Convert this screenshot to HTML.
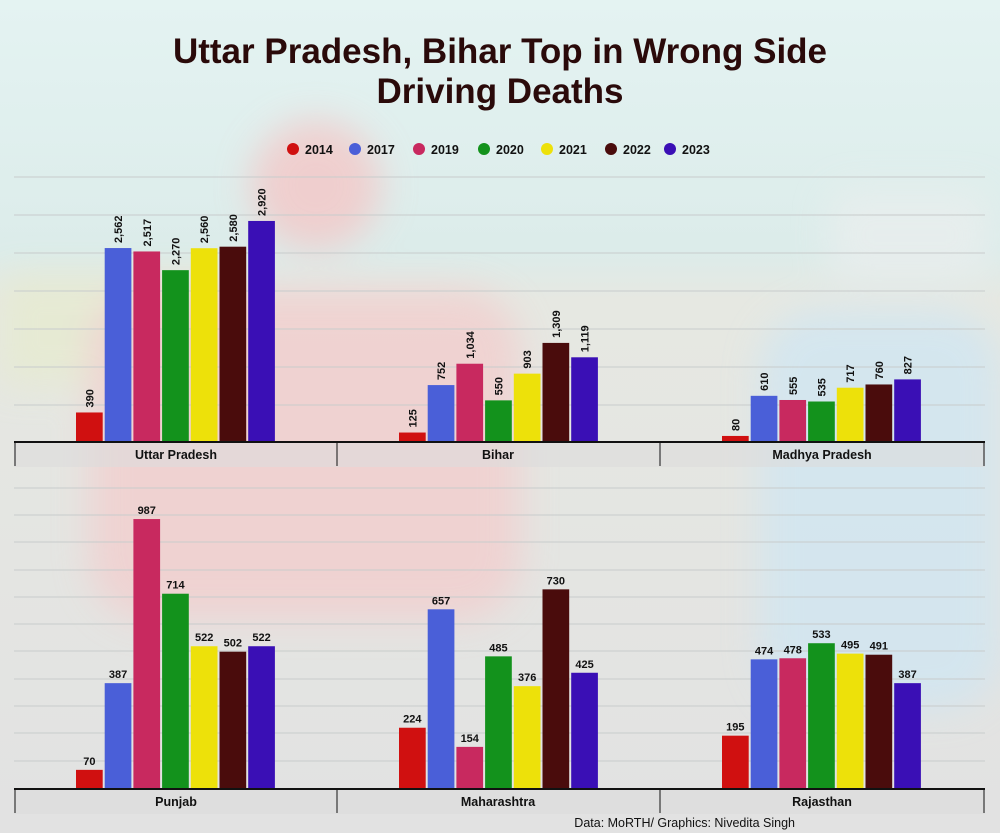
<!DOCTYPE html>
<html><head><meta charset="utf-8"><style>
body{margin:0;width:1000px;height:833px;overflow:hidden;font-family:"Liberation Sans",Arial,sans-serif}
</style></head><body>
<svg width="1000" height="833" viewBox="0 0 1000 833" xmlns="http://www.w3.org/2000/svg" font-family="Liberation Sans, Arial, sans-serif">
<defs>
<linearGradient id="bg" x1="0" y1="0" x2="0" y2="1">
<stop offset="0" stop-color="#e4f3f2"/><stop offset="0.3" stop-color="#dcecea"/><stop offset="0.36" stop-color="#e6e8e2"/><stop offset="1" stop-color="#e2e2e2"/></linearGradient>
<filter id="bl"><feGaussianBlur stdDeviation="18"/></filter>
</defs>
<rect width="1000" height="833" fill="url(#bg)"/>
<g filter="url(#bl)" opacity="0.75">
<rect x="0" y="275" width="240" height="110" fill="#e6ebcf"/>
<circle cx="316" cy="185" r="65" fill="#f5c4c4"/>
<rect x="90" y="290" width="430" height="330" rx="60" fill="#f3cccc"/>
<rect x="760" y="310" width="240" height="400" rx="60" fill="#cfe6f3"/>
<rect x="830" y="190" width="160" height="90" rx="20" fill="#eaeeee"/>
</g>
<text x="500" y="63" text-anchor="middle" font-size="35" font-weight="bold" fill="#2a0a0a">Uttar Pradesh, Bihar Top in Wrong Side</text>
<text x="500" y="103" text-anchor="middle" font-size="35" font-weight="bold" fill="#2a0a0a">Driving Deaths</text>
<g font-size="12.5" font-weight="bold" fill="#111">
<circle cx="293" cy="149" r="6" fill="#d01010"/><text x="305" y="154">2014</text>
<circle cx="355" cy="149" r="6" fill="#4a5fd8"/><text x="367" y="154">2017</text>
<circle cx="419" cy="149" r="6" fill="#c8295f"/><text x="431" y="154">2019</text>
<circle cx="484" cy="149" r="6" fill="#13921c"/><text x="496" y="154">2020</text>
<circle cx="547" cy="149" r="6" fill="#ede10a"/><text x="559" y="154">2021</text>
<circle cx="611" cy="149" r="6" fill="#4a0c0c"/><text x="623" y="154">2022</text>
<circle cx="670" cy="149" r="6" fill="#3a0fb5"/><text x="682" y="154">2023</text>
</g>
<g stroke="#c8cccc" stroke-width="1">
<line x1="14" x2="985" y1="177" y2="177"/><line x1="14" x2="985" y1="215" y2="215"/><line x1="14" x2="985" y1="253" y2="253"/><line x1="14" x2="985" y1="291" y2="291"/><line x1="14" x2="985" y1="329" y2="329"/><line x1="14" x2="985" y1="367" y2="367"/><line x1="14" x2="985" y1="405" y2="405"/>
<line x1="14" x2="985" y1="488" y2="488"/><line x1="14" x2="985" y1="515" y2="515"/><line x1="14" x2="985" y1="542" y2="542"/><line x1="14" x2="985" y1="570" y2="570"/><line x1="14" x2="985" y1="597" y2="597"/><line x1="14" x2="985" y1="624" y2="624"/><line x1="14" x2="985" y1="651" y2="651"/><line x1="14" x2="985" y1="679" y2="679"/><line x1="14" x2="985" y1="706" y2="706"/><line x1="14" x2="985" y1="733" y2="733"/><line x1="14" x2="985" y1="761" y2="761"/>
</g>
<g id="bars"></g>
<rect x="14" y="443" width="971" height="24" fill="#dcdcdc" opacity="0.6"/>
<rect x="14" y="790" width="971" height="24" fill="#dcdcdc" opacity="0.6"/>
<g stroke="#111">
<line x1="14" x2="985" y1="442" y2="442" stroke-width="2"/>
<line x1="15" x2="15" y1="442" y2="466"/><line x1="337" x2="337" y1="442" y2="466"/><line x1="660" x2="660" y1="442" y2="466"/><line x1="984" x2="984" y1="442" y2="466"/>
<line x1="14" x2="985" y1="789" y2="789" stroke-width="2"/>
<line x1="15" x2="15" y1="789" y2="813"/><line x1="337" x2="337" y1="789" y2="813"/><line x1="660" x2="660" y1="789" y2="813"/><line x1="984" x2="984" y1="789" y2="813"/>
</g>
<g font-size="12.5" font-weight="bold" fill="#111" text-anchor="middle">
<text x="176" y="459">Uttar Pradesh</text><text x="498" y="459">Bihar</text><text x="822" y="459">Madhya Pradesh</text>
<text x="176" y="806">Punjab</text><text x="498" y="806">Maharashtra</text><text x="822" y="806">Rajasthan</text>
</g>
<text x="795" y="827" text-anchor="end" font-size="12.5" fill="#111">Data: MoRTH/ Graphics: Nivedita Singh</text>
</svg>
<script>
(function(){
var cols=["#d01010","#4a5fd8","#c8295f","#13921c","#ede10a","#4a0c0c","#3a0fb5"];
var dTop=[[390,2562,2517,2270,2560,2580,2920],[125,752,1034,550,903,1309,1119],[80,610,555,535,717,760,827]];
var dBot=[[70,387,987,714,522,502,522],[224,657,154,485,376,730,425],[195,474,478,533,495,491,387]];
var starts=[76,399,722],g=document.getElementById("bars"),s="";
function f(v){return String(v).replace(/\B(?=(\d{3})+(?!\d))/g,",");}
for(var i=0;i<3;i++)for(var j=0;j<7;j++){
 var x=starts[i]+j*28.7,w=26.7;
 var h=dTop[i][j]*0.0757,y=442-h;
 s+='<rect x="'+x+'" y="'+y+'" width="'+w+'" height="'+h+'" fill="'+cols[j]+'"/>';
 var cx=x+w/2+4,ty=y-5;
 s+='<text transform="translate('+cx+','+ty+') rotate(-90)" font-size="11" font-weight="bold" fill="#111">'+f(dTop[i][j])+'</text>';
 h=dBot[i][j]*0.2735;y=789-h;
 s+='<rect x="'+x+'" y="'+y+'" width="'+w+'" height="'+h+'" fill="'+cols[j]+'"/>';
 s+='<text x="'+(x+w/2)+'" y="'+(y-5)+'" text-anchor="middle" font-size="11" font-weight="bold" fill="#111">'+f(dBot[i][j])+'</text>';
}
g.innerHTML=s;
})();
</script>
</body></html>
